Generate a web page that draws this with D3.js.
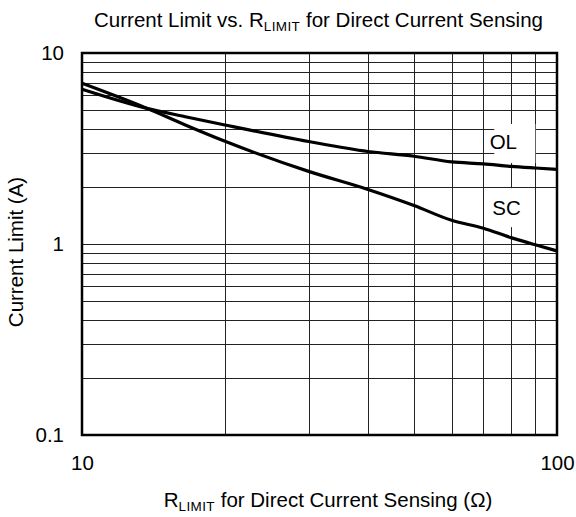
<!DOCTYPE html>
<html>
<head>
<meta charset="utf-8">
<script src="https://cdn.jsdelivr.net/npm/d3@7"></script>
<style>
  html, body { margin: 0; padding: 0; background: #fff; }
  svg { display: block; }
  text { font-family: Arial, "Liberation Sans", Helvetica, sans-serif; fill: #000; }
</style>
</head>
<body>
<svg id="chart" width="576" height="517"></svg>
<script>
// ---- Data ----
const rLimit = [10, 13.7, 16.5, 20, 30, 40, 50, 60, 70, 80, 90, 100];
const olCurrent = [6.46, 5.13, 4.64, 4.2, 3.44, 3.05, 2.88, 2.69, 2.63, 2.55, 2.50, 2.46];
const scCurrent = [6.94, 5.13, 4.2, 3.45, 2.40, 1.93, 1.59, 1.33, 1.21, 1.08, 0.99, 0.92];
const xTickLabels = [10, 100];
const yTickLabels = [0.1, 1, 10];
const xGrid = [20, 30, 40, 50, 60, 70, 80, 90];
const yGrid = [0.2, 0.3, 0.4, 0.5, 0.6, 0.7, 0.8, 0.9, 1, 2, 3, 4, 5, 6, 7, 8, 9];
const seriesNames = ["OL", "SC"];
const labelAt = [[77.1, 3.43], [78.3, 1.55]];     // label text position (data space)
const boxAt = [[81.5, 3.36], [79.5, 1.55]];       // white box centre (data space)

// ---- Layout ----
const W = 576, H = 517;
const m = { left: 82, right: 19, top: 53, bottom: 82 };
const pw = W - m.left - m.right, ph = H - m.top - m.bottom;
const FONT = 20.5;

const svg = d3.select("#chart");
const g = svg.append("g").attr("transform", `translate(${m.left},${m.top})`);

const x = d3.scaleLog().domain([10, 100]).range([0, pw]);
const y = d3.scaleLog().domain([0.1, 10]).range([ph, 0]);

// gridlines
g.append("g").selectAll("line").data(xGrid).join("line")
  .attr("x1", d => Math.round(x(d)) + 0.5).attr("x2", d => Math.round(x(d)) + 0.5)
  .attr("y1", 0).attr("y2", ph)
  .attr("stroke", "#222").attr("stroke-width", 1);
g.append("g").selectAll("line").data(yGrid).join("line")
  .attr("y1", d => Math.round(y(d)) + 0.5).attr("y2", d => Math.round(y(d)) + 0.5)
  .attr("x1", 0).attr("x2", pw)
  .attr("stroke", "#222").attr("stroke-width", 1);

// white boxes behind series labels (gridlines interrupted)
const boxW = 41, boxH = 39;
g.append("g").selectAll("rect").data(boxAt).join("rect")
  .attr("x", d => x(d[0]) - boxW / 2).attr("y", d => y(d[1]) - boxH / 2)
  .attr("width", boxW).attr("height", boxH).attr("fill", "#fff");

// curves
const line = d3.line()
  .x((d, i) => x(rLimit[i]))
  .y(d => y(d))
  .curve(d3.curveMonotoneX);
[olCurrent, scCurrent].forEach(s => {
  g.append("path").datum(s).attr("d", line)
    .attr("fill", "none").attr("stroke", "#000").attr("stroke-width", 3.2)
    .attr("stroke-linejoin", "round");
});

// frame
g.append("rect").attr("x", 0).attr("y", 0).attr("width", pw).attr("height", ph)
  .attr("fill", "none").attr("stroke", "#000").attr("stroke-width", 2.5);

// series labels
g.append("g").selectAll("text").data(seriesNames).join("text")
  .attr("x", (d, i) => x(labelAt[i][0])).attr("y", (d, i) => y(labelAt[i][1]))
  .attr("text-anchor", "middle").attr("dy", "0.36em")
  .attr("font-size", FONT).text(d => d);

// axes (tick labels only, via d3 axes)
const yAxis = d3.axisLeft(y).tickValues(yTickLabels).tickFormat(d => String(d)).tickSize(0).tickPadding(18);
const ya = g.append("g").call(yAxis);
ya.select(".domain").remove();
ya.selectAll("text").attr("font-size", FONT).attr("font-family", "Arial, 'Liberation Sans', sans-serif");

const xAxis = d3.axisBottom(x).tickValues(xTickLabels).tickFormat(d => String(d)).tickSize(0).tickPadding(20);
const xa = g.append("g").attr("transform", `translate(0,${ph})`).call(xAxis);
xa.select(".domain").remove();
xa.selectAll("text").attr("font-size", FONT).attr("font-family", "Arial, 'Liberation Sans', sans-serif");

// title
const title = svg.append("text").attr("x", 318.5).attr("y", 27)
  .attr("text-anchor", "middle").attr("font-size", FONT);
title.append("tspan").text("Current Limit vs. R");
title.append("tspan").attr("font-size", 13.5).attr("letter-spacing", 0.4).attr("dy", 4).text("LIMIT");
title.append("tspan").attr("dy", -4).text(" for Direct Current Sensing");

// x axis title
const xt = svg.append("text").attr("x", 328).attr("y", 507)
  .attr("text-anchor", "middle").attr("font-size", FONT);
xt.append("tspan").text("R");
xt.append("tspan").attr("font-size", 13.5).attr("letter-spacing", 0.4).attr("dy", 4).text("LIMIT");
xt.append("tspan").attr("dy", -4).text(" for Direct Current Sensing (Ω)");

// y axis title
svg.append("text").attr("transform", `translate(23,252) rotate(-90)`)
  .attr("text-anchor", "middle").attr("font-size", FONT).text("Current Limit (A)");
</script>
</body>
</html>
